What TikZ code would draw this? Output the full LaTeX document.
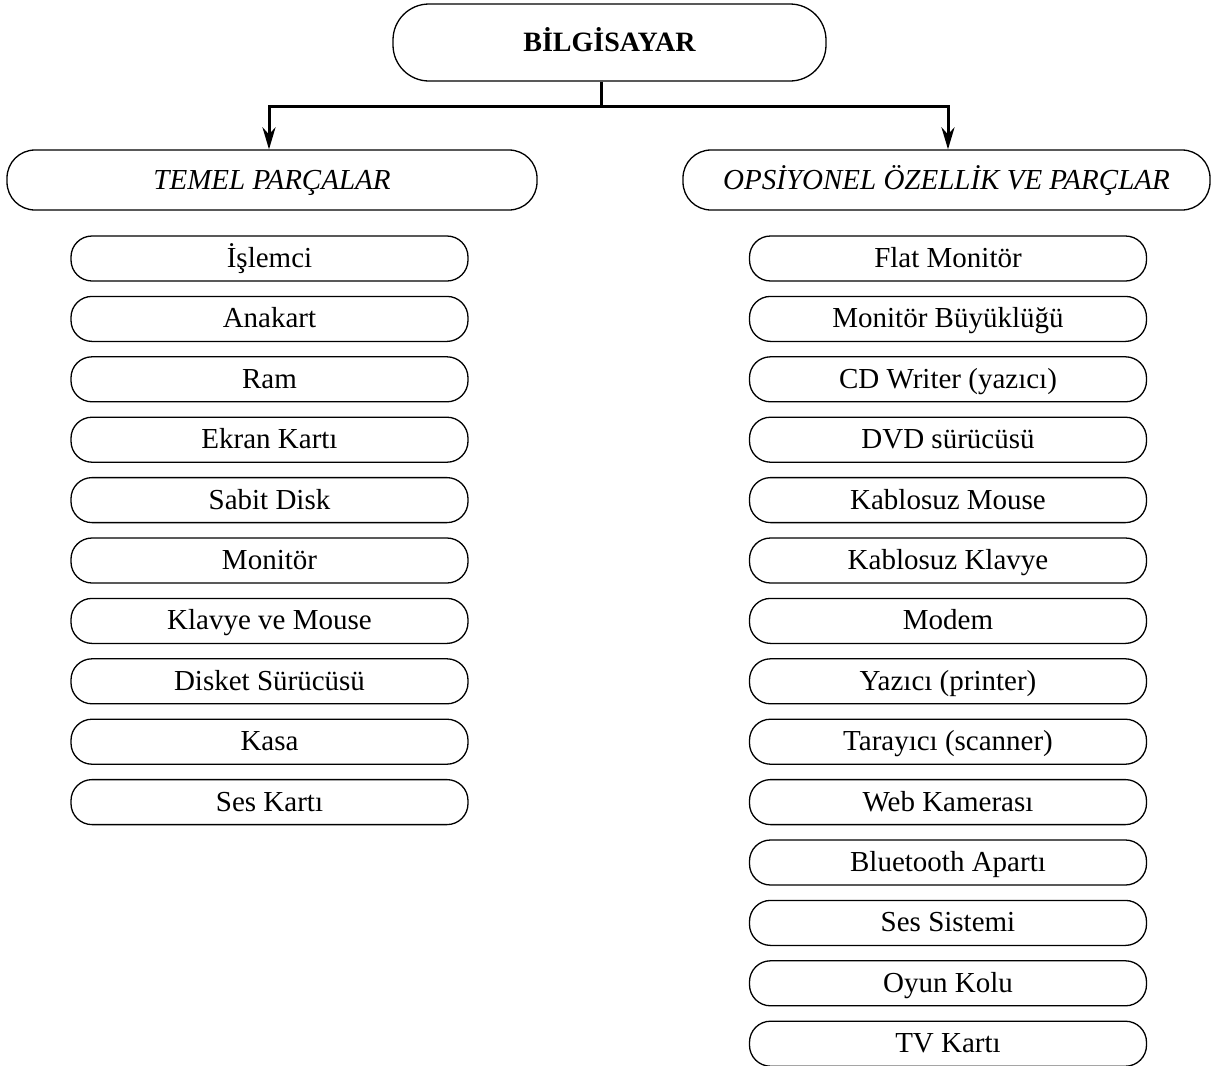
\documentclass[tikz,border=0pt]{standalone}
\usepackage{fontspec}
\setmainfont{Liberation Serif}
\usetikzlibrary{arrows.meta}
\begin{document}
\begin{tikzpicture}[x=0.5pt,y=-0.5pt,
  base/.style={draw, line width=0.65pt, inner sep=0pt, text height=9.6pt, text depth=0.6pt, font=\fontsize{14.5}{17}\selectfont},
  titlebox/.style={base, rounded corners=18pt, minimum width=216.5pt, minimum height=38.5pt, font=\fontsize{14}{17}\selectfont\bfseries},
  headbox/.style={base, rounded corners=14pt, minimum height=30pt, font=\fontsize{14.5}{17}\selectfont\itshape},
  itembox/.style={base, rounded corners=10.5pt, minimum width=198.5pt, minimum height=22.5pt},
  conn/.style={line width=1.5pt, -{Stealth[length=11pt,width=6.5pt]}}
]
\useasboundingbox (0,0) rectangle (1211,1066);

\node[titlebox] (t) at (609.5,42.5) {BİLGİSAYAR};
\node[headbox, minimum width=265pt] (lh) at (272,180) {TEMEL PARÇALAR};
\node[headbox, minimum width=263.5pt] (rh) at (946.5,180) {OPSİYONEL ÖZELLİK VE PARÇLAR};

\coordinate (j) at (601,106);
\draw[line width=1.5pt] (t.south -| j) -- (j);
\draw[conn] (j) -| (lh.north -| 269,0);
\draw[conn] (j) -| (rh.north -| 948,0);

\foreach \txt [count=\i] in {İşlemci, Anakart, Ram, Ekran Kartı, Sabit Disk, Monitör, Klavye ve Mouse, Disket Sürücüsü, Kasa, Ses Kartı}
  \node[itembox] (l\i) at (269.5,{258.5+60.4*(\i-1)}) {\txt};

\foreach \txt [count=\i] in {Flat Monitör, Monitör Büyüklüğü, CD Writer (yazıcı), DVD sürücüsü, Kablosuz Mouse, Kablosuz Klavye, Modem, Yazıcı (printer), Tarayıcı (scanner), Web Kamerası, Bluetooth Apartı, Ses Sistemi, Oyun Kolu, TV Kartı}
  \node[itembox] (r\i) at (948,{258.5+60.4*(\i-1)}) {\txt};
\end{tikzpicture}
\end{document}
